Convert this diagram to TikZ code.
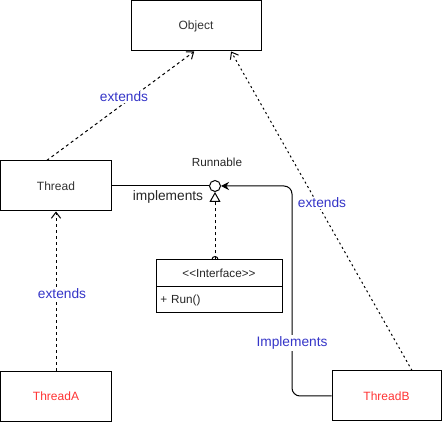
\documentclass[tikz,border=0pt]{standalone}
\usepackage{fontspec}
\setmainfont{Liberation Sans}
\usetikzlibrary{arrows.meta, positioning}
\definecolor{lblblue}{HTML}{3535C8}
\definecolor{clsred}{HTML}{FF3333}

\begin{document}
\begin{tikzpicture}[x=0.75pt, y=-0.75pt, line width=0.75pt,
                cls box/.style={draw, minimum height=37.5pt, inner sep=0pt, font=\fontsize{9}{10.5}\selectfont, text=black!80},
                edge lbl/.style={fill=white, inner sep=1pt, font=\fontsize{10.3}{12}\selectfont, text=lblblue},
                small txt/.style={font=\fontsize{8.8}{10}\selectfont, text=black!85},
                extends/.style={dash pattern=on 2.25pt off 2.25pt, -{Straight Barb[length=4.5pt, width=7pt, line width=0.75pt]}}]
                \useasboundingbox (0,0) rectangle (443,423);

                % Class boxes
                \node[cls box, minimum width=97.5pt] (object) at (196,26) {Object};
                \node[cls box, minimum width=83.25pt] (thread) at (56,186) {Thread};
                \node[cls box, minimum width=83.25pt, text=clsred] (threada) at (56,396.5) {ThreadA};
                \node[cls box, minimum width=81.75pt, text=clsred] (threadb) at (386.5,396) {ThreadB};

                % Interface with its operation
                \node[draw, minimum width=94.5pt, minimum height=20.25pt, inner sep=0pt, small txt] (iface) at (219,273.5) {{<}{<}Interface{>}{>}};
                \node[draw, minimum width=94.5pt, minimum height=19.5pt, inner sep=3pt, small txt, text width=88pt, align=left, below=-0.75pt of iface] (ifaceops) {+ Run()};

                % Lollipop
                \node[draw, circle, minimum size=8.25pt, inner sep=0pt] (run) at (215,186) {};
                \node[small txt] (runlbl) at (217,162) {Runnable};
                \coordinate (bend) at (292,186);

                % Connectors
                \draw (thread.east) -- (run.west);
                \draw[dash pattern=on 2.25pt off 2.25pt, -{Triangle[open, length=7.5pt, width=8.25pt, line width=0.75pt]}] (iface.north -| run) -- (run.south);
                \draw (iface.north -| run) ++(-3,0) arc (180:360:3);
                \draw[rounded corners=6pt, -{Stealth[length=6pt, width=6pt]}] (threadb.west) -| (bend) -- (run.east);
                \draw[extends] (thread.110) -- (object.266);
                \draw[extends] (threada.north) -- (thread.south);
                \draw[extends, dash pattern=on 1.5pt off 2.25pt] (threadb.45) -- (object.-36);

                % Labels
                \node[edge lbl] at (124,97) {extends};
                \node[edge lbl] at (62,294) {extends};
                \node[edge lbl] at (322,203) {extends};
                \node[edge lbl] at (292,343) {Implements};
                \node[font=\fontsize{10.3}{12}\selectfont, text=black!85] at (168,197) {implements};
\end{tikzpicture}
\end{document}
